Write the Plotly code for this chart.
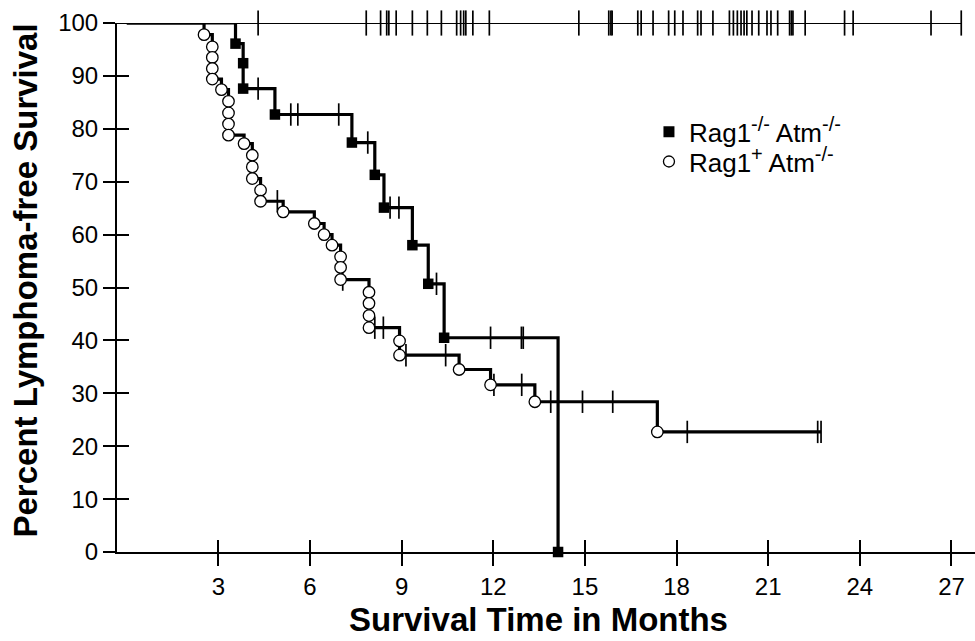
import plotly.graph_objects as go

# ---------------- data ----------------
# Rag1-/- Atm-/- (filled squares): event times / survival (%)
sq_times = [0, 3.56, 3.81, 3.81, 4.85, 7.37, 8.12, 8.42, 9.35, 9.87, 10.39, 14.12]
sq_surv = [100, 96.1, 92.4, 87.6, 82.7, 77.4, 71.3, 65.1, 58.0, 50.7, 40.5, 0]
sq_cens_t = [4.30, 5.37, 5.60, 6.94, 7.89, 8.62, 8.91, 10.14, 11.91, 12.92, 12.98]
sq_cens_s = [87.6, 82.7, 82.7, 82.7, 77.4, 65.1, 65.1, 50.7, 40.5, 40.5, 40.5]

# Rag1+ Atm-/- (open circles)
ci_times = [0, 2.53, 2.80, 2.80, 2.80, 2.80, 3.10, 3.33, 3.33, 3.33, 3.33, 3.84,
            4.11, 4.11, 4.11, 4.38, 4.38, 5.12, 6.14, 6.46, 6.72, 7.00, 7.00, 7.00,
            7.93, 7.93, 7.93, 7.93, 8.93, 8.93, 10.88, 11.91, 13.36, 17.37, 22.73]
ci_surv = [100, 97.8, 95.5, 93.5, 91.4, 89.4, 87.4, 85.2, 83.0, 80.9, 78.8, 77.2,
           75.0, 72.8, 70.6, 68.4, 66.3, 64.3, 62.1, 60.0, 58.0, 55.8, 53.8, 51.5,
           49.1, 47.0, 44.7, 42.4, 39.9, 37.2, 34.5, 31.6, 28.4, 22.7, 22.7]
ci_cens_t = [4.93, 7.07, 8.12, 8.40, 9.14, 10.44, 12.02, 12.93, 13.88, 14.92, 15.91,
             18.35, 22.62, 22.73]
ci_cens_s = [66.3, 51.5, 42.4, 42.4, 37.2, 37.2, 31.6, 31.6, 28.4, 28.4, 28.4,
             22.7, 22.7, 22.7]

# group without lymphoma (line at 100 %)
top_line_t = [-0.32, 27.32]
top_line_s = [100, 100]
top_cens_t = [4.30, 7.84, 8.31, 8.51, 8.58, 8.82, 9.35, 9.84, 10.30, 10.80, 10.93,
              11.03, 11.10, 11.33, 11.87, 14.80, 15.78, 15.85, 15.89, 16.73, 16.84,
              17.23, 17.74, 17.94, 18.21, 18.69, 18.80, 19.19, 19.73, 19.86, 19.99,
              20.11, 20.21, 20.30, 20.47, 20.69, 20.96, 21.09, 21.31, 21.70, 21.76,
              21.81, 22.21, 23.50, 23.78, 26.33, 27.32]
top_cens_s = [100] * len(top_cens_t)

x_ticks = [3, 6, 9, 12, 15, 18, 21, 24, 27]
y_ticks = [0, 10, 20, 30, 40, 50, 60, 70, 80, 90, 100]

SUP = "<sup><span style='font-size:20px'>{}</span></sup>"
series_names = ["Rag1" + SUP.format("-/-") + " Atm" + SUP.format("-/-"),
                "Rag1" + SUP.format("+") + " Atm" + SUP.format("-/-")]

# ---------------- figure ----------------
FONT = "Liberation Sans, Arial, Helvetica, sans-serif"
X_RANGE = [-0.32, 27.77]
Y_RANGE = [0, 100]

fig = go.Figure()

# top line (no lymphoma)
fig.add_trace(go.Scatter(x=top_line_t, y=top_line_s, mode="lines",
                         line=dict(color="black", width=2),
                         showlegend=False, cliponaxis=False, hoverinfo="skip"))
fig.add_trace(go.Scatter(x=top_cens_t, y=top_cens_s, mode="markers",
                         marker=dict(symbol="line-ns", size=18, color="black",
                                     line=dict(color="black", width=1.7)),
                         showlegend=False, cliponaxis=False, hoverinfo="skip"))

# circles curve
fig.add_trace(go.Scatter(x=ci_times, y=ci_surv, mode="lines", line_shape="hv",
                         line=dict(color="black", width=3.2),
                         showlegend=False, cliponaxis=False))
fig.add_trace(go.Scatter(x=ci_cens_t, y=ci_cens_s, mode="markers",
                         marker=dict(symbol="line-ns", size=16, color="black",
                                     line=dict(color="black", width=1.7)),
                         showlegend=False, cliponaxis=False))
fig.add_trace(go.Scatter(x=ci_times[1:-1], y=ci_surv[1:-1], mode="markers",
                         marker=dict(symbol="circle", size=11.5, color="white",
                                     line=dict(color="black", width=1.3)),
                         showlegend=False, cliponaxis=False))

# squares curve
fig.add_trace(go.Scatter(x=sq_times, y=sq_surv, mode="lines", line_shape="hv",
                         line=dict(color="black", width=3.2),
                         showlegend=False, cliponaxis=False))
fig.add_trace(go.Scatter(x=sq_cens_t, y=sq_cens_s, mode="markers",
                         marker=dict(symbol="line-ns", size=16, color="black",
                                     line=dict(color="black", width=1.7)),
                         showlegend=False, cliponaxis=False))
fig.add_trace(go.Scatter(x=sq_times[1:], y=sq_surv[1:], mode="markers",
                         marker=dict(symbol="square", size=10.5, color="black",
                                     line=dict(color="black", width=0)),
                         showlegend=False, cliponaxis=False))

# legend entries (on overlay axes, which carry the inside half of the ticks)
fig.add_trace(go.Scatter(x=[None], y=[None], mode="markers", name=series_names[0],
                         marker=dict(symbol="square", size=11, color="black"),
                         xaxis="x2", yaxis="y2", legend="legend"))
fig.add_trace(go.Scatter(x=[None], y=[None], mode="markers", name=series_names[1],
                         marker=dict(symbol="circle-open", size=11, color="black",
                                     line=dict(width=1.3)),
                         xaxis="x2", yaxis="y2", legend="legend2"))

axis_common = dict(showgrid=False, zeroline=False, tickcolor="black",
                   tickwidth=1.5, ticklen=12)
legend_common = dict(xanchor="left", yanchor="middle", bgcolor="rgba(0,0,0,0)",
                     font=dict(size=26, family=FONT), itemwidth=30)

fig.update_layout(
    width=975, height=641,
    margin=dict(l=117, r=0, t=23, b=89, pad=0),
    paper_bgcolor="white", plot_bgcolor="white",
    font=dict(family=FONT, color="black", size=24),
    xaxis=dict(range=X_RANGE, tickvals=x_ticks, ticks="outside",
               showline=True, linecolor="black", linewidth=2,
               tickfont=dict(size=24), automargin=False, **axis_common),
    yaxis=dict(range=Y_RANGE, tickvals=y_ticks, ticks="outside",
               showline=True, linecolor="black", linewidth=2,
               tickfont=dict(size=24), automargin=False, **axis_common),
    xaxis2=dict(range=X_RANGE, tickvals=x_ticks, ticks="inside", overlaying="x",
                showticklabels=False, showline=False, **axis_common),
    yaxis2=dict(range=Y_RANGE, tickvals=y_ticks, ticks="inside", overlaying="y",
                showticklabels=False, showline=False, **axis_common),
    legend=dict(x=0.62, y=0.794, **legend_common),
    legend2=dict(x=0.62, y=0.738, **legend_common),
    showlegend=True,
    annotations=[
        dict(text="<b>Survival Time in Months</b>", xref="paper", yref="paper",
             x=0.4907, y=-0.1665, xanchor="center", yanchor="bottom",
             showarrow=False, font=dict(size=33, family=FONT)),
        dict(text="<b>Percent Lymphoma-free Survival</b>", xref="paper", yref="paper",
             x=-0.107, y=0.5136, xanchor="center", yanchor="middle", textangle=-90,
             showarrow=False, font=dict(size=33, family=FONT)),
    ],
)

# remove the browser's default 8px page margin so the 975x641 figure fills the window
fig.write_html("out.html",
               config={"displayModeBar": False},
               post_script="document.body.style.margin='0px';"
                           "document.body.style.overflow='hidden';")
